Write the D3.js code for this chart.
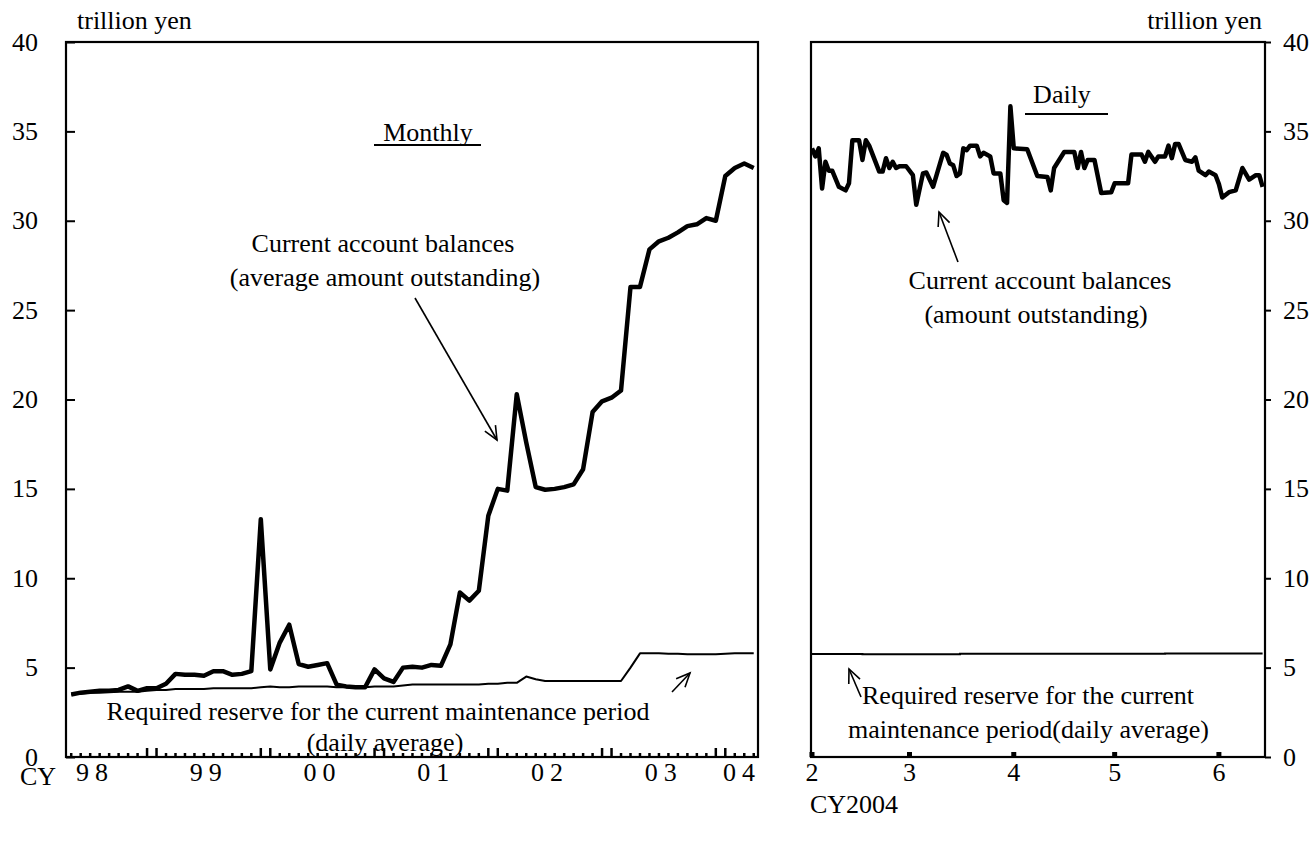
<!DOCTYPE html>
<html><head><meta charset="utf-8">
<script src="https://cdn.jsdelivr.net/npm/d3@7"></script>
<style>
body{margin:0;background:#fff}
svg text{font-family:"Liberation Serif","DejaVu Serif","Times New Roman",serif;fill:#000}
</style>
</head><body>
<svg id="c" width="1312" height="841" font-family="Liberation Serif, DejaVu Serif, serif"></svg>
<script>
// ---------------- DATA ----------------
const monthlyStartYear = 1998, monthlyStartMonth = 4; // April 1998
const currentAccountMonthly = [
  3.5,3.6,3.65,3.7,3.7,3.75,3.95,3.7,3.85,               // Apr-Dec 98
  3.85,4.1,4.65,4.6,4.6,4.55,4.8,4.8,4.6,4.65,4.8,13.3,  // 99
  4.9,6.4,7.4,5.2,5.05,5.15,5.25,4.05,3.95,3.9,3.9,4.9,  // 00
  4.4,4.2,5.0,5.05,5.0,5.15,5.1,6.3,9.2,8.75,9.3,13.5,   // 01
  15.0,14.9,20.3,17.6,15.1,14.95,15.0,15.1,15.25,16.1,19.3,19.9, // 02
  20.1,20.5,26.3,26.3,28.4,28.85,29.05,29.35,29.7,29.8,30.15,30.0, // 03
  32.5,32.95,33.2,32.95                                    // Jan-Apr 04
];
const requiredReserveMonthly = [
  3.5,3.55,3.6,3.6,3.62,3.65,3.65,3.65,3.7,
  3.75,3.75,3.8,3.8,3.8,3.8,3.85,3.85,3.85,3.85,3.85,3.9,
  3.95,3.9,3.9,3.95,3.95,3.95,3.95,3.9,3.9,3.9,3.9,3.95,
  3.95,3.95,4.0,4.05,4.05,4.05,4.05,4.05,4.05,4.05,4.05,4.1,
  4.1,4.15,4.15,4.5,4.35,4.25,4.25,4.25,4.25,4.25,4.25,4.25,
  4.25,4.25,5.0,5.8,5.8,5.8,5.78,5.78,5.75,5.75,5.75,5.75,
  5.78,5.8,5.8,5.8
];
const yearTickLabels = ["98","99","00","01","02","03","04"];

const dailyDates = [
  "2004-02-01","2004-02-02","2004-02-03","2004-02-04","2004-02-05","2004-02-06","2004-02-07","2004-02-09",
  "2004-02-11","2004-02-12","2004-02-13","2004-02-15","2004-02-16","2004-02-17","2004-02-18","2004-02-21",
  "2004-02-22","2004-02-23","2004-02-24","2004-02-25","2004-02-26","2004-02-27","2004-02-29",
  "2004-03-02","2004-03-03","2004-03-05","2004-03-06","2004-03-08","2004-03-11","2004-03-12","2004-03-13",
  "2004-03-14","2004-03-15","2004-03-16","2004-03-17","2004-03-18","2004-03-19","2004-03-21","2004-03-22",
  "2004-03-23","2004-03-25","2004-03-26","2004-03-28","2004-03-29","2004-03-30","2004-03-31",
  "2004-04-01","2004-04-05","2004-04-08","2004-04-11","2004-04-12","2004-04-13","2004-04-16","2004-04-19",
  "2004-04-20","2004-04-21","2004-04-22","2004-04-23","2004-04-25","2004-04-27","2004-04-30",
  "2004-05-01","2004-05-05","2004-05-06","2004-05-09","2004-05-10","2004-05-11","2004-05-13","2004-05-14",
  "2004-05-16","2004-05-17","2004-05-18","2004-05-19","2004-05-20","2004-05-22","2004-05-24","2004-05-25",
  "2004-05-26","2004-05-28","2004-05-29","2004-05-31",
  "2004-06-01","2004-06-02","2004-06-04","2004-06-06","2004-06-08","2004-06-10","2004-06-12","2004-06-13","2004-06-14"
];
const currentAccountDaily = [
  34.05,33.6,34.05,31.8,33.3,32.8,32.8,31.9,
  31.7,32.1,34.5,34.5,33.4,34.5,34.2,32.75,
  32.75,33.5,32.95,33.3,32.95,33.05,33.05,
  32.55,30.9,32.65,32.7,31.9,33.8,33.7,33.2,
  33.1,32.5,32.65,34.05,33.95,34.2,34.2,33.6,
  33.8,33.6,32.65,32.65,31.15,31.0,36.4,
  34.05,34.0,32.5,32.45,31.7,32.95,33.85,33.85,
  32.95,33.85,32.95,33.4,33.4,31.55,31.6,
  32.1,32.1,33.7,33.7,33.3,33.85,33.3,33.6,
  33.6,34.2,33.5,34.3,34.3,33.4,33.3,33.55,
  32.8,32.55,32.75,32.55,
  32.05,31.3,31.6,31.7,32.95,32.3,32.55,32.55,31.9
];
const reserveDailyDates = ["2004-02-01","2004-02-16","2004-03-16","2004-04-16","2004-05-16","2004-06-14"];
const requiredReserveDaily = [5.76,5.75,5.77,5.78,5.79,5.79];
const dailyMonthTicks = ["2004-02-01","2004-03-01","2004-04-01","2004-05-01","2004-06-01"];
const dailyMonthLabels = ["2","3","4","5","6"];
const yTicks = [0,5,10,15,20,25,30,35,40];

// ---------------- CHART ----------------
const svg = d3.select("#c");
const FS = 26;
const FONT = "Liberation Serif, DejaVu Serif, serif";
const parse = d3.timeParse("%Y-%m-%d");

const y = d3.scaleLinear().domain([0,40]).range([757,42]);
const xm = d3.scaleLinear().domain([2.45,75.45]).range([66,758]);
const xd = d3.scaleTime().domain([parse("2004-02-01"), new Date(2004,5,14,17)]).range([812,1265]);

const startIdx = (monthlyStartYear-1998)*12 + (monthlyStartMonth-1);
const monthly = currentAccountMonthly.map((v,i)=>({i:startIdx+i, ca:v, rr:requiredReserveMonthly[i]}));

const L = {x0:66,x1:758}, R = {x0:811,x1:1265};
[L,R].forEach(p=>{
  svg.append("rect").attr("x",p.x0).attr("y",y(40)).attr("width",p.x1-p.x0).attr("height",y(0)-y(40))
    .attr("fill","none").attr("stroke","#000").attr("stroke-width",2.2);
});

function T(sel){ return sel.attr("font-family",FONT).attr("font-size",FS).attr("fill","#000"); }

// left y axis (inward ticks)
const gyl = svg.append("g").attr("transform",`translate(${L.x0},0)`)
  .call(d3.axisRight(y).tickValues(yTicks).tickSize(9).tickFormat(""));
gyl.select(".domain").remove();
gyl.selectAll("line").attr("stroke","#000").attr("stroke-width",2);
T(svg.append("g").selectAll("text").data(yTicks).join("text"))
  .attr("x",38).attr("y",d=>y(d)).attr("text-anchor","end").attr("dominant-baseline","central").text(d=>d);

// right y axis (outward ticks)
const gyr = svg.append("g").attr("transform",`translate(${R.x1},0)`)
  .call(d3.axisRight(y).tickValues(yTicks).tickSize(6).tickFormat(""));
gyr.select(".domain").remove();
gyr.selectAll("line").attr("stroke","#000").attr("stroke-width",2);
T(svg.append("g").selectAll("text").data(yTicks).join("text"))
  .attr("x",1283).attr("y",d=>y(d)).attr("text-anchor","start").attr("dominant-baseline","central").text(d=>d);

// units
T(svg.append("text")).attr("x",77).attr("y",29).text("trillion yen");
T(svg.append("text")).attr("x",1262).attr("y",29).attr("text-anchor","end").text("trillion yen");

// left bottom month ticks
const monthIdx = d3.range(startIdx, startIdx+currentAccountMonthly.length);
svg.append("g").selectAll("line").data(monthIdx).join("line")
  .attr("x1",d=>xm(d)).attr("x2",d=>xm(d))
  .attr("y1",y(0)).attr("y2",d=>{const m=d%12; return y(0)-((m===0||m===11)?9:4);})
  .attr("stroke","#000").attr("stroke-width",2.5);

// left year labels
T(svg.append("text")).attr("x",20).attr("y",785).text("CY");
T(svg.append("g").selectAll("text").data(yearTickLabels).join("text"))
  .attr("x",(d,k)=>Math.min(xm(k*12+5.5),742)).attr("y",781).attr("text-anchor","middle")
  .attr("letter-spacing",6).text(d=>d);

// left lines
const lineM = key => d3.line().x(d=>xm(d.i)).y(d=>y(d[key]));
svg.append("path").datum(monthly).attr("d",lineM("rr")).attr("fill","none")
  .attr("stroke","#000").attr("stroke-width",2).attr("stroke-linejoin","round");
svg.append("path").datum(monthly).attr("d",lineM("ca")).attr("fill","none")
  .attr("stroke","#000").attr("stroke-width",4.5).attr("stroke-linejoin","round");

// right bottom ticks (square marks)
svg.append("g").selectAll("line").data(dailyMonthTicks).join("line")
  .attr("x1",d=>xd(parse(d))).attr("x2",d=>xd(parse(d)))
  .attr("y1",y(0)).attr("y2",y(0)-5).attr("stroke","#000").attr("stroke-width",5);
T(svg.append("g").selectAll("text").data(dailyMonthTicks).join("text"))
  .attr("x",d=>xd(parse(d))).attr("y",781).attr("text-anchor","middle")
  .text((d,k)=>dailyMonthLabels[k]);
T(svg.append("text")).attr("x",810).attr("y",813).text("CY2004");

// right lines
const daily = dailyDates.map((d,i)=>({t:parse(d), v:currentAccountDaily[i]}));
const rdaily = reserveDailyDates.map((d,i)=>({t:parse(d), v:requiredReserveDaily[i]}));
svg.append("path").datum(rdaily).attr("d",d3.line().x(d=>xd(d.t)).y(d=>y(d.v)).curve(d3.curveStepAfter))
  .attr("fill","none").attr("stroke","#000").attr("stroke-width",2);
svg.append("path").datum(daily).attr("d",d3.line().x(d=>xd(d.t)).y(d=>y(d.v)))
  .attr("fill","none").attr("stroke","#000").attr("stroke-width",4.5).attr("stroke-linejoin","round");

// annotations
function arrow(x1,y1,x2,y2,w){
  const a=Math.atan2(y2-y1,x2-x1), h=15, s=0.42;
  svg.append("line").attr("x1",x1).attr("y1",y1).attr("x2",x2).attr("y2",y2).attr("stroke","#000").attr("stroke-width",w||1.6);
  svg.append("path").attr("d",`M${x2-h*Math.cos(a-s)},${y2-h*Math.sin(a-s)}L${x2},${y2}L${x2-h*Math.cos(a+s)},${y2-h*Math.sin(a+s)}`)
    .attr("fill","none").attr("stroke","#000").attr("stroke-width",w||1.6);
}
function txt(x,yy,s,anchor){
  T(svg.append("text")).attr("x",x).attr("y",yy).attr("text-anchor",anchor||"middle").attr("dominant-baseline","central").text(s);
}
txt(428,132,"Monthly");
svg.append("line").attr("x1",374).attr("x2",481).attr("y1",145).attr("y2",145).attr("stroke","#000").attr("stroke-width",2);
txt(383,243,"Current account balances");
txt(385,277,"(average amount outstanding)");
arrow(415,298,497,440);
txt(378,711,"Required reserve for the current maintenance period");
txt(385,742,"(daily average)");
arrow(672,692,690,673);

txt(1062,94,"Daily");
svg.append("line").attr("x1",1025).attr("x2",1108).attr("y1",114).attr("y2",114).attr("stroke","#000").attr("stroke-width",2);
txt(1040,280,"Current account balances");
txt(1036,314,"(amount outstanding)");
arrow(958,262,939,212);
txt(862,695,"Required reserve for the current","start");
txt(848,729,"maintenance period(daily average)","start");
arrow(861,697,849,669);
</script>
</body></html>
